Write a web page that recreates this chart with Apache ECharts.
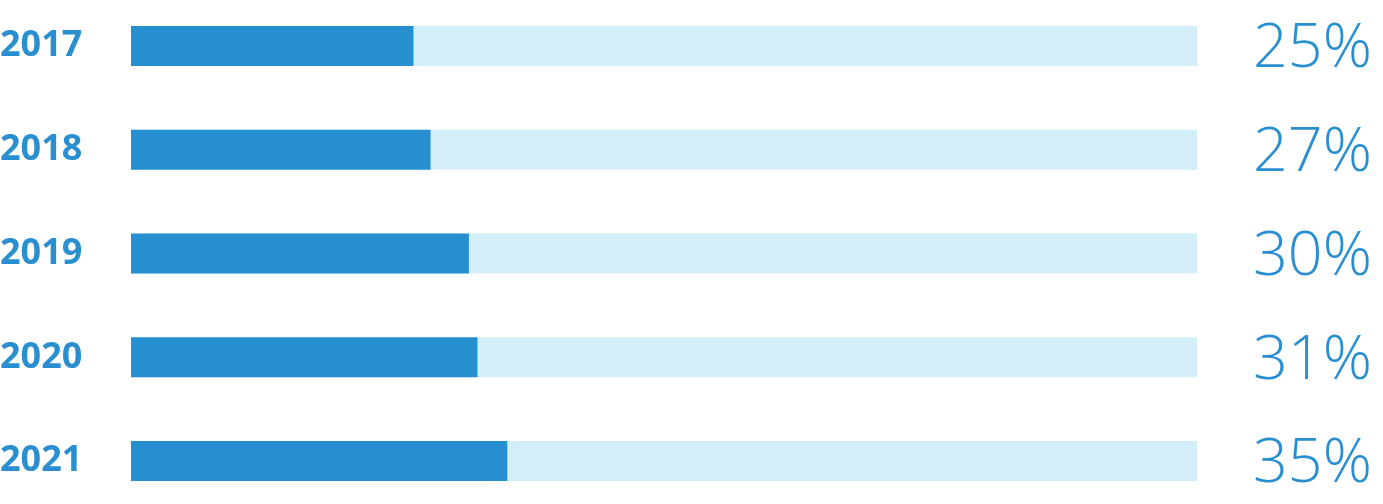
<!DOCTYPE html>
<html>
<head>
<meta charset="utf-8">
<script src="https://cdn.jsdelivr.net/npm/echarts@6/dist/echarts.min.js"></script>
<style>
html,body{margin:0;padding:0;background:#fff;}
#chart{width:1383px;height:504px;}
</style>
</head>
<body>
<div id="chart"></div>
<script>
// Categories
const years = ['2017', '2018', '2019', '2020', '2021'];
// Printed percentage labels
const shareLabels = ['25%', '27%', '30%', '31%', '35%'];
// Bar lengths as drawn in the picture (share of full track, 0-100)
const barValues = [26.5, 28.1, 31.7, 32.5, 35.3];
const trackMax = 100;

const chart = echarts.init(document.getElementById('chart'));
chart.setOption({
  animation: false,
  grid: { left: 131, right: 186, top: 46, bottom: 43, outerBoundsMode: 'none', containLabel: false },
  xAxis: { type: 'value', min: 0, max: trackMax, show: false },
  yAxis: {
    type: 'category',
    data: years,
    inverse: true,
    boundaryGap: false,
    axisLine: { show: false },
    axisTick: { show: false },
    splitLine: { show: false },
    axisLabel: {
      align: 'left',
      margin: 131,
      color: '#2a8fd0',
      fontFamily: 'Open Sans',
      fontWeight: 'bold',
      fontSize: 36,
      padding: [3, 0, 0, 0]
    }
  },
  series: [
    {
      type: 'bar',
      data: years.map(() => trackMax),
      barWidth: 40,
      barGap: '-100%',
      itemStyle: { color: '#d4eef9' },
      silent: true,
      label: {
        show: true,
        position: 'right',
        distance: 56,
        offset: [0, 4],
        formatter: p => shareLabels[p.dataIndex],
        color: '#2a8fd0',
        fontFamily: 'Open Sans',
        fontWeight: 300,
        fontSize: 61
      }
    },
    {
      type: 'bar',
      data: barValues,
      barWidth: 40,
      barGap: '-100%',
      itemStyle: { color: '#268fcf' },
      z: 3
    }
  ]
});
</script>
</body>
</html>
